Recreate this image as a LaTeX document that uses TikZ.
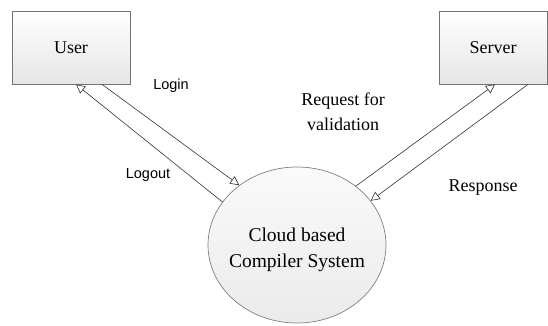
\documentclass[tikz,border=0pt]{standalone}
\usepackage{fontspec}
\setmainfont{Liberation Serif}
\newfontfamily\labelsans{Liberation Sans}
\usetikzlibrary{arrows.meta,shapes.geometric,shadows}

\begin{document}
\begin{tikzpicture}[x=1pt,y=-1pt,line cap=round,line join=round,
    entity/.style={draw=black!55,line width=0.7pt,top color=white,bottom color=black!10,
      minimum width=#1,minimum height=73pt,inner sep=0pt,font=\fontsize{18}{20}\selectfont,
      drop shadow={opacity=0.2,shadow xshift=1pt,shadow yshift=-1pt}},
    process/.style={ellipse,draw=black!50,line width=0.7pt,top color=black!2,bottom color=black!8,
      minimum width=178pt,minimum height=156pt,inner sep=0pt,align=center,
      font=\fontsize{19.5}{26}\selectfont},
    flow/.style={draw=black!80,line width=0.6pt,-{Triangle[open,length=9pt,width=9pt]}},
    sanslabel/.style={font=\labelsans\fontsize{14.5}{17}\selectfont},
    seriflabel/.style={font=\fontsize{18}{25}\selectfont,align=center}]
  \useasboundingbox (0,0) rectangle (548,325);
  \node[entity=118pt] (user) at (71,47.5) {User};
  \node[entity=108pt] (server) at (493,47.5) {Server};
  \node[process] (cloud) at (297,245) {};
  \node[font=\fontsize{19.5}{26}\selectfont,align=center] (cloudtext) at (297,250) {Cloud based\\Compiler System};
  \draw[flow] ([xshift=31pt]user.south) -- (cloud.134.5);
  \draw[flow] (cloud.150.3) -- ([xshift=5pt]user.south);
  \draw[flow] (cloud.45) -- ([xshift=2pt]server.south);
  \draw[flow] ([xshift=35pt]server.south) -- (cloud.31.6);
  \node[sanslabel] (login) at (171,86) {Login};
  \node[sanslabel] (logout) at (148,175) {Logout};
  \node[seriflabel] (request) at (343,112) {Request for\\validation};
  \node[seriflabel] (response) at (483,188) {Response};
\end{tikzpicture}
\end{document}
